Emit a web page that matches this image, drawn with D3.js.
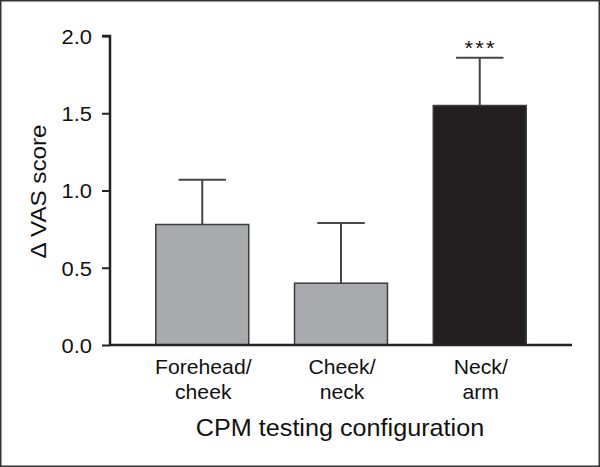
<!DOCTYPE html>
<html><head><meta charset="utf-8">
<script src="https://cdn.jsdelivr.net/npm/d3@7/dist/d3.min.js"></script>
<style>
html,body{margin:0;padding:0;background:#fff;}
svg{display:block;font-family:"Liberation Sans",Arial,Helvetica,sans-serif;}
</style></head>
<body>
<svg id="chart" width="600" height="467"></svg>
<script>
const categories = ["Forehead/cheek", "Cheek/neck", "Neck/arm"];
const categoryLines = [["Forehead/", "cheek"], ["Cheek/", "neck"], ["Neck/", "arm"]];
const values = [0.78, 0.40, 1.55];
const errors = [0.29, 0.39, 0.31];
const barColors = ["#a9aaad", "#a9aaad", "#231f20"];
const significance = ["", "", "***"];
const yTicks = [0, 0.5, 1.0, 1.5, 2.0];
const yLabel = "\u0394 VAS score";
const xLabel = "CPM testing configuration";

const svg = d3.select("#chart");
const W = 600, H = 467;
const margin = {left: 110, right: 28, top: 36, bottom: 122};
const TXT = "#111";

// frame
svg.append("rect").attr("x", 0.75).attr("y", 0.75).attr("width", W - 1.5).attr("height", H - 1.5)
  .attr("fill", "#fff").attr("stroke", "#333").attr("stroke-width", 1.5);

const x = d3.scaleBand().domain(categories)
  .range([margin.left, W - margin.right]).paddingInner(0.33).paddingOuter(0.33);
const y = d3.scaleLinear().domain([0, 2]).range([H - margin.bottom, margin.top]);

// bars
const g = svg.append("g");
categories.forEach((c, i) => {
  const bx = x(c), bw = x.bandwidth();
  const cx = bx + bw / 2;
  const capW = bw * 0.51;
  g.append("line").attr("x1", cx).attr("x2", cx).attr("y1", y(values[i])).attr("y2", y(values[i] + errors[i]))
    .attr("stroke", "#454545").attr("stroke-width", 2);
  g.append("line").attr("x1", cx - capW / 2).attr("x2", cx + capW / 2)
    .attr("y1", y(values[i] + errors[i])).attr("y2", y(values[i] + errors[i]))
    .attr("stroke", "#454545").attr("stroke-width", 2);
  g.append("rect").attr("x", bx).attr("width", bw)
    .attr("y", y(values[i])).attr("height", y(0) - y(values[i]))
    .attr("fill", barColors[i]).attr("stroke", "#3c3c3c").attr("stroke-width", 1.5);
  if (significance[i]) {
    g.append("text").attr("transform", `translate(${cx + 1},${y(values[i] + errors[i]) - 3}) scale(1.1,1)`)
      .attr("text-anchor", "middle").attr("font-size", 20).attr("letter-spacing", 2)
      .attr("fill", TXT).text(significance[i]);
  }
});

// y axis
const yAxis = d3.axisLeft(y).tickValues(yTicks).tickFormat(d3.format(".1f")).tickSize(8).tickPadding(10);
const ya = svg.append("g").attr("transform", `translate(${margin.left},0)`).call(yAxis);
ya.select(".domain").attr("stroke", "#222").attr("stroke-width", 2.5).attr("d", `M-8,${y(2)}H0V${y(0)}`);
ya.selectAll(".tick line").attr("stroke", "#222").attr("stroke-width", 2);
const sxTick = 1.07;
ya.selectAll(".tick text").attr("font-size", 20.5).attr("fill", TXT)
  .attr("x", -18 / sxTick).attr("transform", `scale(${sxTick},1)`).attr("dy", "0.36em");

// x axis
const xAxis = d3.axisBottom(x).tickSize(0).tickFormat("");
const xa = svg.append("g").attr("transform", `translate(0,${y(0)})`).call(xAxis);
xa.select(".domain").attr("stroke", "#222").attr("stroke-width", 2.5)
  .attr("d", `M${margin.left},0H${W - margin.right}`);

// category labels
categories.forEach((c, i) => {
  const cx = x(c) + x.bandwidth() / 2 + 1;
  const t = svg.append("text").attr("transform", `translate(${cx},${y(0) + 28.5}) scale(1.06,1)`)
    .attr("text-anchor", "middle").attr("font-size", 20).attr("fill", TXT);
  categoryLines[i].forEach((line, j) => {
    t.append("tspan").attr("x", 0).attr("dy", j === 0 ? 0 : 26).text(line);
  });
});

// axis titles
svg.append("text").attr("transform", `translate(340,${y(0) + 91}) scale(1.05,1)`)
  .attr("text-anchor", "middle").attr("font-size", 24).attr("fill", TXT).text(xLabel);
svg.append("text").attr("transform", `translate(46,${(y(0) + y(2)) / 2 + 1}) rotate(-90) scale(1.1,1)`)
  .attr("text-anchor", "middle").attr("font-size", 22).attr("fill", TXT).text(yLabel);
</script>
</body></html>
